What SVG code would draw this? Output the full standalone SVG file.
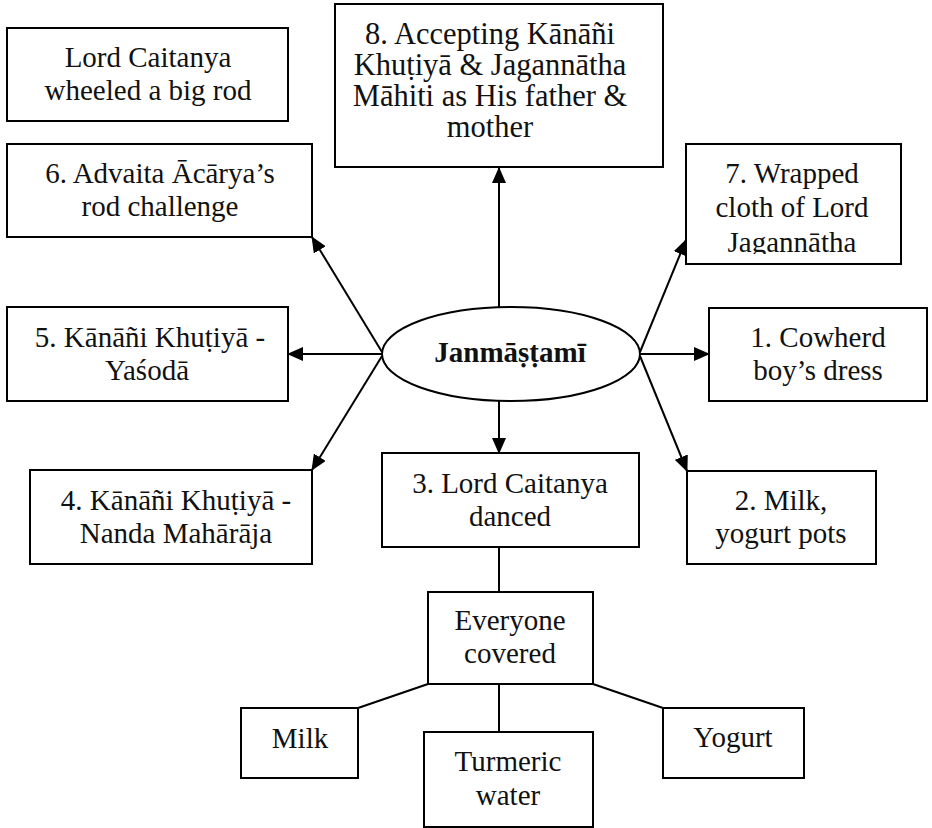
<svg xmlns="http://www.w3.org/2000/svg" width="932" height="828" viewBox="0 0 932 828">
  <style>
    .box { fill: #fff; stroke: #000; stroke-width: 2; }
    .hub { fill: #fff; stroke: #000; stroke-width: 2; }
    .lbl { font-family: "Liberation Serif", "Times New Roman", serif; font-size: 29px; fill: #111; text-anchor: middle; }
    .wide { font-size: 30.5px; }
    .hubtxt { font-family: "Liberation Serif", "Times New Roman", serif; font-size: 29px; font-weight: bold; fill: #111; text-anchor: middle; }
    .wire { stroke: #000; stroke-width: 2; fill: none; }
    .arrow { marker-end: url(#head); }
  </style>
  <defs>
    <marker id="head" markerUnits="userSpaceOnUse" markerWidth="16" markerHeight="14" viewBox="0 0 16 14" refX="15" refY="7" orient="auto">
      <path d="M0,0 L16,7 L0,14 Z" fill="#000"/>
    </marker>
    <!-- text frame of node 7 is shorter than its border, trimming the last line -->
    <clipPath id="clip7">
      <rect x="686" y="144" width="215" height="110"/>
    </clipPath>
  </defs>

  <rect width="932" height="828" fill="#fff"/>

  <!-- connectors -->
  <g id="connectors">
    <line class="wire arrow" x1="499" y1="307" x2="499" y2="168"/>
    <line class="wire arrow" x1="499" y1="401" x2="499" y2="453"/>
    <line class="wire arrow" x1="640" y1="354" x2="709" y2="354"/>
    <line class="wire arrow" x1="382" y1="354" x2="288" y2="354"/>
    <line class="wire arrow" x1="640" y1="352" x2="686" y2="240"/>
    <line class="wire arrow" x1="640" y1="356" x2="687" y2="471"/>
    <line class="wire arrow" x1="382" y1="352" x2="312" y2="237"/>
    <line class="wire arrow" x1="382" y1="356" x2="312" y2="470"/>
    <line class="wire" x1="499" y1="547" x2="499" y2="592"/>
    <line class="wire" x1="428" y1="684" x2="358" y2="708"/>
    <line class="wire" x1="499" y1="684" x2="499" y2="732"/>
    <line class="wire" x1="593" y1="684" x2="663" y2="708"/>
  </g>

  <g id="hub">
    <ellipse class="hub" cx="511" cy="354" rx="129" ry="47"/>
    <text class="hubtxt" x="510" y="362">Janmāṣṭamī</text>
  </g>

  <g id="rod">
    <rect class="box" x="7" y="28" width="281" height="93"/>
    <text class="lbl" x="148" y="67">Lord Caitanya</text>
    <text class="lbl" x="148" y="100">wheeled a big rod</text>
  </g>

  <g id="n6">
    <rect class="box" x="7" y="144" width="305" height="93"/>
    <text class="lbl" x="160" y="183">6. Advaita Ācārya’s</text>
    <text class="lbl" x="160" y="216">rod challenge</text>
  </g>

  <g id="n8">
    <rect class="box" x="335" y="4" width="328" height="163"/>
    <text class="lbl wide" x="490" y="44">8. Accepting Kānāñi</text>
    <text class="lbl wide" x="490" y="75">Khuṭiyā &amp; Jagannātha</text>
    <text class="lbl wide" x="490" y="106">Māhiti as His father &amp;</text>
    <text class="lbl wide" x="490" y="137">mother</text>
  </g>

  <g id="n7">
    <rect class="box" x="686" y="144" width="215" height="120"/>
    <g clip-path="url(#clip7)">
      <text class="lbl" x="792" y="183">7. Wrapped</text>
      <text class="lbl" x="792" y="217">cloth of Lord</text>
      <text class="lbl" x="792" y="252">Jagannātha</text>
    </g>
  </g>

  <g id="n1">
    <rect class="box" x="709" y="308" width="218" height="93"/>
    <text class="lbl" x="818" y="347">1. Cowherd</text>
    <text class="lbl" x="818" y="380">boy’s dress</text>
  </g>

  <g id="n5">
    <rect class="box" x="7" y="307" width="281" height="94"/>
    <text class="lbl" x="150" y="347">5. Kānāñi Khuṭiyā -</text>
    <text class="lbl" x="147" y="380">Yaśodā</text>
  </g>

  <g id="n4">
    <rect class="box" x="30" y="470" width="282" height="94"/>
    <text class="lbl" x="176" y="510">4. Kānāñi Khuṭiyā -</text>
    <text class="lbl" x="176" y="543">Nanda Mahārāja</text>
  </g>

  <g id="n3">
    <rect class="box" x="382" y="453" width="257" height="94"/>
    <text class="lbl" x="510" y="493">3. Lord Caitanya</text>
    <text class="lbl" x="510" y="526">danced</text>
  </g>

  <g id="n2">
    <rect class="box" x="687" y="471" width="189" height="93"/>
    <text class="lbl" x="781" y="510">2. Milk,</text>
    <text class="lbl" x="781" y="543">yogurt pots</text>
  </g>

  <g id="covered">
    <rect class="box" x="428" y="592" width="165" height="92"/>
    <text class="lbl" x="510" y="630">Everyone</text>
    <text class="lbl" x="510" y="663">covered</text>
  </g>

  <g id="milk">
    <rect class="box" x="241" y="708" width="117" height="70"/>
    <text class="lbl" x="300" y="748">Milk</text>
  </g>

  <g id="turmeric">
    <rect class="box" x="424" y="732" width="169" height="95"/>
    <text class="lbl" x="508" y="771">Turmeric</text>
    <text class="lbl" x="508" y="805">water</text>
  </g>

  <g id="yogurt">
    <rect class="box" x="663" y="708" width="141" height="70"/>
    <text class="lbl" x="733" y="747">Yogurt</text>
  </g>
</svg>
